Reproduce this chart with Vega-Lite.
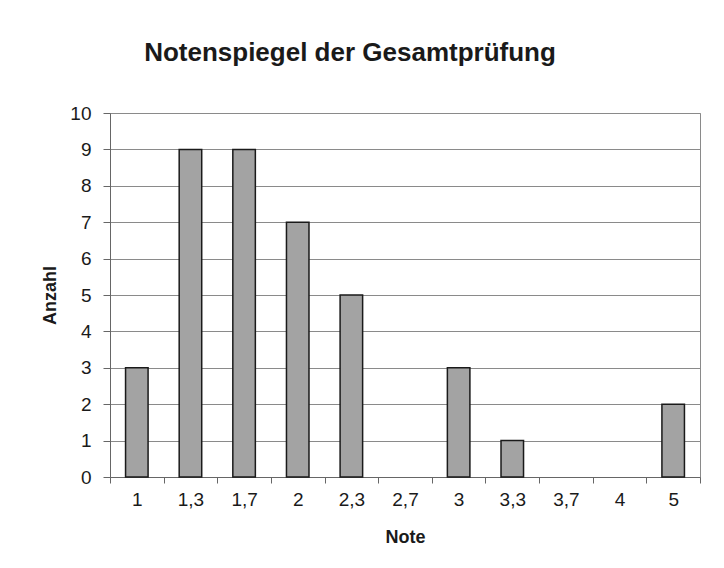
{
  "$schema": "https://vega.github.io/schema/vega-lite/v6.json",
  "width": 590,
  "height": 364,
  "autosize": "none",
  "padding": {"left": 110, "top": 113, "right": 24, "bottom": 91},
  "background": "white",
  "title": {
    "text": "Notenspiegel der Gesamtprüfung",
    "font": "Liberation Sans",
    "fontSize": 26,
    "fontWeight": "bold",
    "color": "#1a1a1a",
    "anchor": "middle",
    "frame": "group",
    "dx": -55,
    "offset": 38
  },
  "config": {
    "view": {"stroke": "#8a8a8a", "strokeWidth": 1},
    "axis": {
      "labelFont": "Liberation Sans",
      "titleFont": "Liberation Sans",
      "labelFontSize": 19,
      "labelColor": "#1a1a1a",
      "titleFontSize": 18,
      "titleFontWeight": "bold",
      "titleColor": "#1a1a1a",
      "domainColor": "#666666",
      "tickColor": "#666666",
      "gridColor": "#8a8a8a",
      "gridWidth": 1
    }
  },
  "data": {
    "values": [
      {"Note": "1", "Anzahl": 3},
      {"Note": "1,3", "Anzahl": 9},
      {"Note": "1,7", "Anzahl": 9},
      {"Note": "2", "Anzahl": 7},
      {"Note": "2,3", "Anzahl": 5},
      {"Note": "2,7", "Anzahl": 0},
      {"Note": "3", "Anzahl": 3},
      {"Note": "3,3", "Anzahl": 1},
      {"Note": "3,7", "Anzahl": 0},
      {"Note": "4", "Anzahl": 0},
      {"Note": "5", "Anzahl": 2}
    ]
  },
  "transform": [{"filter": "datum.Anzahl > 0"}],
  "mark": {
    "type": "bar",
    "fill": "#a3a3a3",
    "stroke": "#1a1a1a",
    "strokeWidth": 1.5,
    "width": {"band": 0.42}
  },
  "encoding": {
    "x": {
      "field": "Note",
      "type": "nominal",
      "sort": ["1", "1,3", "1,7", "2", "2,3", "2,7", "3", "3,3", "3,7", "4", "5"],
      "scale": {
        "domain": ["1", "1,3", "1,7", "2", "2,3", "2,7", "3", "3,3", "3,7", "4", "5"],
        "paddingInner": 0,
        "paddingOuter": 0
      },
      "axis": {
        "title": "Note",
        "labelAngle": 0,
        "tickBand": "extent",
        "tickSize": 6,
        "labelPadding": 7,
        "titlePadding": 19,
        "grid": false
      }
    },
    "y": {
      "field": "Anzahl",
      "type": "quantitative",
      "scale": {"domain": [0, 10], "nice": false},
      "axis": {
        "title": "Anzahl",
        "values": [0, 1, 2, 3, 4, 5, 6, 7, 8, 9, 10],
        "tickSize": 7,
        "labelPadding": 12,
        "titlePadding": 10,
        "grid": true
      }
    }
  }
}
